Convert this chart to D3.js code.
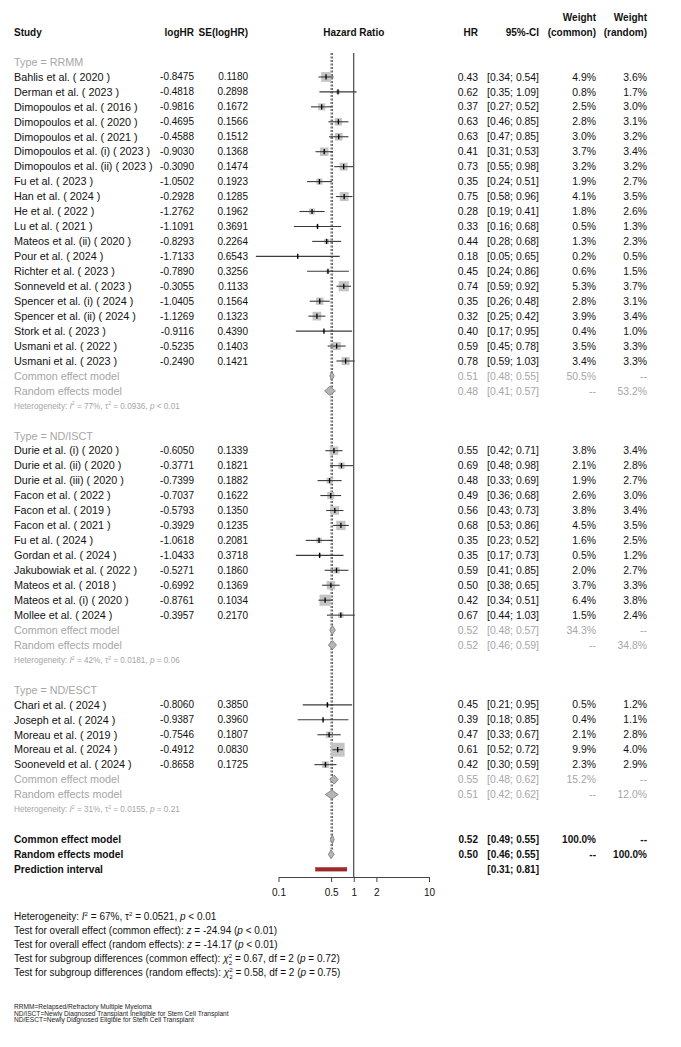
<!DOCTYPE html>
<html>
<head>
<meta charset="utf-8">
<script src="https://cdn.jsdelivr.net/npm/d3@7"></script>
<style>
  body { margin: 0; background: #fff; }
  svg { display: block; font-family: "Liberation Sans", Arial, sans-serif; }
</style>
</head>
<body>
<svg id="plot" width="681" height="1047"></svg>
<script>
// Study level data
const groupLabels = ["Type = RRMM", "Type = ND/ISCT", "Type = ND/ESCT"];

const studyNames = [
  "Bahlis et al. ( 2020 )", "Derman et al. ( 2023 )", "Dimopoulos et al. ( 2016 )",
  "Dimopoulos et al. ( 2020 )", "Dimopoulos et al. ( 2021 )", "Dimopoulos et al. (i) ( 2023 )",
  "Dimopoulos et al. (ii) ( 2023 )", "Fu et al. ( 2023 )", "Han et al. ( 2024 )",
  "He et al. ( 2022 )", "Lu et al. ( 2021 )", "Mateos et al. (ii) ( 2020 )",
  "Pour et al. ( 2024 )", "Richter et al. ( 2023 )", "Sonneveld et al. ( 2023 )",
  "Spencer et al. (i) ( 2024 )", "Spencer et al. (ii) ( 2024 )", "Stork et al. ( 2023 )",
  "Usmani et al. ( 2022 )", "Usmani et al. ( 2023 )",
  "Durie et al. (i) ( 2020 )", "Durie et al. (ii) ( 2020 )", "Durie et al. (iii) ( 2020 )",
  "Facon et al. ( 2022 )", "Facon et al. ( 2019 )", "Facon et al. ( 2021 )",
  "Fu et al. ( 2024 )", "Gordan et al. ( 2024 )", "Jakubowiak et al. ( 2022 )",
  "Mateos et al. ( 2018 )", "Mateos et al. (i) ( 2020 )", "Mollee et al. ( 2024 )",
  "Chari et al. ( 2024 )", "Joseph et al. ( 2024 )", "Moreau et al. ( 2019 )",
  "Moreau et al. ( 2024 )", "Sooneveld et al. ( 2024 )"
];
const studyGroup = [
  0,0,0,0,0,0,0,0,0,0,0,0,0,0,0,0,0,0,0,0,
  1,1,1,1,1,1,1,1,1,1,1,1,
  2,2,2,2,2
];
const logHR = [
  -0.8475, -0.4818, -0.9816, -0.4695, -0.4588, -0.9030, -0.3090, -1.0502, -0.2928, -1.2762,
  -1.1091, -0.8293, -1.7133, -0.7890, -0.3055, -1.0405, -1.1269, -0.9116, -0.5235, -0.2490,
  -0.6050, -0.3771, -0.7399, -0.7037, -0.5793, -0.3929, -1.0618, -1.0433, -0.5271, -0.6992,
  -0.8761, -0.3957,
  -0.8060, -0.9387, -0.7546, -0.4912, -0.8658
];
const seLogHR = [
  0.1180, 0.2898, 0.1672, 0.1566, 0.1512, 0.1368, 0.1474, 0.1923, 0.1285, 0.1962,
  0.3691, 0.2264, 0.6543, 0.3256, 0.1133, 0.1564, 0.1323, 0.4390, 0.1403, 0.1421,
  0.1339, 0.1821, 0.1882, 0.1622, 0.1350, 0.1235, 0.2081, 0.3718, 0.1860, 0.1369,
  0.1034, 0.2170,
  0.3850, 0.3960, 0.1807, 0.0830, 0.1725
];
const hr = [
  0.43, 0.62, 0.37, 0.63, 0.63, 0.41, 0.73, 0.35, 0.75, 0.28,
  0.33, 0.44, 0.18, 0.45, 0.74, 0.35, 0.32, 0.40, 0.59, 0.78,
  0.55, 0.69, 0.48, 0.49, 0.56, 0.68, 0.35, 0.35, 0.59, 0.50,
  0.42, 0.67,
  0.45, 0.39, 0.47, 0.61, 0.42
];
const ciLow = [
  0.34, 0.35, 0.27, 0.46, 0.47, 0.31, 0.55, 0.24, 0.58, 0.19,
  0.16, 0.28, 0.05, 0.24, 0.59, 0.26, 0.25, 0.17, 0.45, 0.59,
  0.42, 0.48, 0.33, 0.36, 0.43, 0.53, 0.23, 0.17, 0.41, 0.38,
  0.34, 0.44,
  0.21, 0.18, 0.33, 0.52, 0.30
];
const ciHigh = [
  0.54, 1.09, 0.52, 0.85, 0.85, 0.53, 0.98, 0.51, 0.96, 0.41,
  0.68, 0.68, 0.65, 0.86, 0.92, 0.48, 0.42, 0.95, 0.78, 1.03,
  0.71, 0.98, 0.69, 0.68, 0.73, 0.86, 0.52, 0.73, 0.85, 0.65,
  0.51, 1.03,
  0.95, 0.85, 0.67, 0.72, 0.59
];
const wCommon = [
  4.9, 0.8, 2.5, 2.8, 3.0, 3.7, 3.2, 1.9, 4.1, 1.8,
  0.5, 1.3, 0.2, 0.6, 5.3, 2.8, 3.9, 0.4, 3.5, 3.4,
  3.8, 2.1, 1.9, 2.6, 3.8, 4.5, 1.6, 0.5, 2.0, 3.7,
  6.4, 1.5,
  0.5, 0.4, 2.1, 9.9, 2.3
];
const wRandom = [
  3.6, 1.7, 3.0, 3.1, 3.2, 3.4, 3.2, 2.7, 3.5, 2.6,
  1.3, 2.3, 0.5, 1.5, 3.7, 3.1, 3.4, 1.0, 3.3, 3.3,
  3.4, 2.8, 2.7, 3.0, 3.4, 3.5, 2.5, 1.2, 2.7, 3.3,
  3.8, 2.4,
  1.2, 1.1, 2.8, 4.0, 2.9
];

// Subgroup pooled estimates
const subCommonHR = [0.51, 0.52, 0.55];
const subCommonLow = [0.48, 0.48, 0.48];
const subCommonHigh = [0.55, 0.57, 0.62];
const subCommonW = [50.5, 34.3, 15.2];
const subRandomHR = [0.48, 0.52, 0.51];
const subRandomLow = [0.41, 0.46, 0.42];
const subRandomHigh = [0.57, 0.59, 0.62];
const subRandomW = [53.2, 34.8, 12.0];
const subI2 = ["77%", "42%", "31%"];
const subTau2 = ["0.0936", "0.0181", "0.0155"];
const subP = ["< 0.01", "= 0.06", "= 0.21"];

// Overall estimates
const overallCommon = [0.52, 0.49, 0.55];
const overallRandom = [0.50, 0.46, 0.55];
const predInterval = [0.31, 0.81];

const axisTicks = [0.1, 0.5, 1, 2, 10];

const footNotes = [
  "RRMM=Relapsed/Refractory Multiple Myeloma",
  "ND/ISCT=Newly Diagnosed Transplant Ineligible for Stem Cell Transplant",
  "ND/ESCT=Newly Diagnosed Eligible for Stem Cell Transplant"
];

// ---- layout ----
const svg = d3.select("#plot");
const FS = 10;        // numbers, headers, footer
const FS_LAB = 10.8;  // study / model labels
const GREY = "#a6a6a6";
const rowY = r => 62 + r * 14.95;

const x = d3.scaleLog().domain([0.1, 10]).range([278.5, 429]);

const col = { study: 14, logHR: 194, se: 248, hr: 478, ci: 539, wc: 596, wr: 647 };

const f2 = d => d.toFixed(2);
const f4 = d => d.toFixed(4);
const fw = d => d.toFixed(1) + "%";
const ciStr = (lo, hi) => `[${f2(lo)}; ${f2(hi)}]`;

function txt(xp, y, s, opt = {}) {
  return svg.append("text")
    .attr("x", xp).attr("y", y).attr("dy", "0.35em")
    .attr("font-size", opt.size || FS)
    .attr("font-weight", opt.bold ? "bold" : null)
    .attr("text-anchor", opt.anchor || "start")
    .attr("fill", opt.color || "#111")
    .text(s);
}

// text with italics / super- / subscripts
function rich(xp, y, parts, fs, color) {
  const t = svg.append("text").attr("x", xp).attr("y", y).attr("dy", "0.35em")
    .attr("font-size", fs).attr("fill", color);
  let shift = 0;
  parts.forEach(p => {
    const sp = t.append("tspan").text(p.t);
    let target = 0;
    if (p.s === "sup") target = -fs * 0.4;
    if (p.s === "sub") target = fs * 0.3;
    if (target - shift !== 0) sp.attr("dy", target - shift);
    shift = target;
    if (p.s) sp.attr("font-size", fs * 0.62);
    if (p.i) sp.attr("font-style", "italic");
    if (p.dx) sp.attr("dx", p.dx);
  });
  return t;
}

function hetParts(i2, tau2, p) {
  return [
    { t: "Heterogeneity: " }, { t: "I", i: true }, { t: "2", s: "sup" },
    { t: " = " + i2 + ", τ" }, { t: "2", s: "sup" },
    { t: " = " + tau2 + ", " }, { t: "p", i: true }, { t: " " + p }
  ];
}

function diamond(y, est, lo, hi, h) {
  svg.append("path")
    .attr("d", `M${x(lo)},${y}L${x(est)},${y - h}L${x(hi)},${y}L${x(est)},${y + h}Z`)
    .attr("fill", "#b5b5b5").attr("stroke", "#777").attr("stroke-width", 0.8);
}

// headers
txt(col.wc, 17, "Weight", { bold: true, anchor: "end" });
txt(col.wr, 17, "Weight", { bold: true, anchor: "end" });
txt(col.study, 32, "Study", { bold: true });
txt(col.logHR, 32, "logHR", { bold: true, anchor: "end" });
txt(col.se, 32, "SE(logHR)", { bold: true, anchor: "end" });
txt(x(1), 32, "Hazard Ratio", { bold: true, anchor: "middle" });
txt(col.hr, 32, "HR", { bold: true, anchor: "end" });
txt(col.ci, 32, "95%-CI", { bold: true, anchor: "end" });
txt(col.wc, 32, "(common)", { bold: true, anchor: "end" });
txt(col.wr, 32, "(random)", { bold: true, anchor: "end" });

// reference lines
const lineTop = 53;
svg.append("line").attr("x1", x(1)).attr("x2", x(1)).attr("y1", lineTop).attr("y2", 877)
  .attr("stroke", "#222").attr("stroke-width", 1);
[overallCommon[0], overallRandom[0]].forEach(v => {
  svg.append("line").attr("x1", x(v)).attr("x2", x(v)).attr("y1", lineTop).attr("y2", 850)
    .attr("stroke", "#222").attr("stroke-width", 0.8).attr("stroke-dasharray", "2,1.5");
});

// rows
let r = 0;
groupLabels.forEach((g, gi) => {
  txt(col.study, rowY(r), g, { color: GREY, size: FS_LAB });
  r++;
  studyNames.forEach((name, i) => {
    if (studyGroup[i] !== gi) return;
    const y = rowY(r);
    txt(col.study, y, name, { size: FS_LAB });
    txt(col.logHR, y, f4(logHR[i]), { anchor: "end" });
    txt(col.se, y, f4(seLogHR[i]), { anchor: "end" });
    txt(col.hr, y, f2(hr[i]), { anchor: "end", size: 10.4 });
    txt(col.ci, y, ciStr(ciLow[i], ciHigh[i]), { anchor: "end", size: 10.4 });
    txt(col.wc, y, fw(wCommon[i]), { anchor: "end", size: 10.4 });
    txt(col.wr, y, fw(wRandom[i]), { anchor: "end", size: 10.4 });

    const est = Math.exp(logHR[i]);
    const lo = Math.exp(logHR[i] - 1.96 * seLogHR[i]);
    const hi = Math.exp(logHR[i] + 1.96 * seLogHR[i]);
    const s = 4.4 * Math.sqrt(wCommon[i]);
    svg.append("rect").attr("x", x(est) - s / 2).attr("y", y - s / 2)
      .attr("width", s).attr("height", s).attr("fill", "#c4c4c4");
    svg.append("line").attr("x1", x(lo)).attr("x2", x(hi)).attr("y1", y).attr("y2", y)
      .attr("stroke", "#3a3a3a").attr("stroke-width", 1.1);
    svg.append("line").attr("x1", x(est)).attr("x2", x(est)).attr("y1", y - 2.6).attr("y2", y + 2.6)
      .attr("stroke", "#000").attr("stroke-width", 1.3);
    r++;
  });
  // subgroup common
  let y = rowY(r);
  txt(col.study, y, "Common effect model", { color: GREY, size: FS_LAB });
  txt(col.hr, y, f2(subCommonHR[gi]), { anchor: "end", color: GREY, size: 10.4 });
  txt(col.ci, y, ciStr(subCommonLow[gi], subCommonHigh[gi]), { anchor: "end", color: GREY, size: 10.4 });
  txt(col.wc, y, fw(subCommonW[gi]), { anchor: "end", color: GREY, size: 10.4 });
  txt(col.wr, y, "--", { anchor: "end", color: GREY, size: 10.4 });
  diamond(y, subCommonHR[gi], subCommonLow[gi], subCommonHigh[gi], 4.5);
  r++;
  y = rowY(r);
  txt(col.study, y, "Random effects model", { color: GREY, size: FS_LAB });
  txt(col.hr, y, f2(subRandomHR[gi]), { anchor: "end", color: GREY, size: 10.4 });
  txt(col.ci, y, ciStr(subRandomLow[gi], subRandomHigh[gi]), { anchor: "end", color: GREY, size: 10.4 });
  txt(col.wc, y, "--", { anchor: "end", color: GREY, size: 10.4 });
  txt(col.wr, y, fw(subRandomW[gi]), { anchor: "end", color: GREY, size: 10.4 });
  diamond(y, subRandomHR[gi], subRandomLow[gi], subRandomHigh[gi], 4.5);
  r++;
  rich(col.study, rowY(r), hetParts(subI2[gi], subTau2[gi], subP[gi]), 8.2, GREY);
  r += 2;
});

// overall
let y = rowY(r);
txt(col.study, y, "Common effect model", { bold: true, size: 10.2 });
txt(col.hr, y, f2(overallCommon[0]), { bold: true, anchor: "end" });
txt(col.ci, y, ciStr(overallCommon[1], overallCommon[2]), { bold: true, anchor: "end" });
txt(col.wc, y, "100.0%", { bold: true, anchor: "end" });
txt(col.wr, y, "--", { bold: true, anchor: "end" });
diamond(y, overallCommon[0], overallCommon[1], overallCommon[2], 4.5);
r++;
y = rowY(r);
txt(col.study, y, "Random effects model", { bold: true, size: 10.2 });
txt(col.hr, y, f2(overallRandom[0]), { bold: true, anchor: "end" });
txt(col.ci, y, ciStr(overallRandom[1], overallRandom[2]), { bold: true, anchor: "end" });
txt(col.wc, y, "--", { bold: true, anchor: "end" });
txt(col.wr, y, "100.0%", { bold: true, anchor: "end" });
diamond(y, overallRandom[0], overallRandom[1], overallRandom[2], 4.5);
r++;
y = rowY(r);
txt(col.study, y, "Prediction interval", { bold: true, size: 10.2 });
txt(col.ci, y, ciStr(predInterval[0], predInterval[1]), { bold: true, anchor: "end" });
svg.append("rect").attr("x", x(predInterval[0])).attr("y", y - 1.8)
  .attr("width", x(predInterval[1]) - x(predInterval[0])).attr("height", 3.6)
  .attr("fill", "#a3282a").attr("stroke", "#7a1a1a").attr("stroke-width", 0.4);

// axis
const axisG = svg.append("g").attr("transform", "translate(0,877)")
  .call(d3.axisBottom(x).tickValues(axisTicks).tickFormat(d => String(d))
    .tickSize(5).tickSizeOuter(0).tickPadding(7));
axisG.select(".domain").attr("stroke", "#444");
axisG.selectAll(".tick line").attr("stroke", "#444");
axisG.selectAll(".tick text").attr("font-size", FS).attr("fill", "#111")
  .attr("font-family", "Liberation Sans, Arial, sans-serif");

// footer tests
const footY = [916, 930, 944, 958, 972];
rich(col.study, footY[0], hetParts("67%", "0.0521", "< 0.01"), FS, "#111");
rich(col.study, footY[1], [
  { t: "Test for overall effect (common effect): " }, { t: "z", i: true },
  { t: " = -24.94 (" }, { t: "p", i: true }, { t: " < 0.01)" }
], FS, "#111");
rich(col.study, footY[2], [
  { t: "Test for overall effect (random effects): " }, { t: "z", i: true },
  { t: " = -14.17 (" }, { t: "p", i: true }, { t: " < 0.01)" }
], FS, "#111");
rich(col.study, footY[3], [
  { t: "Test for subgroup differences (common effect): " }, { t: "χ", i: true },
  { t: "2", s: "sup" }, { t: "2", s: "sub", dx: -3.4 },
  { t: " = 0.67, df = 2 (" }, { t: "p", i: true }, { t: " = 0.72)" }
], FS, "#111");
rich(col.study, footY[4], [
  { t: "Test for subgroup differences (random effects): " }, { t: "χ", i: true },
  { t: "2", s: "sup" }, { t: "2", s: "sub", dx: -3.4 },
  { t: " = 0.58, df = 2 (" }, { t: "p", i: true }, { t: " = 0.75)" }
], FS, "#111");

// footnotes
footNotes.forEach((s, i) => txt(col.study, 1007 + i * 6.5, s, { size: 6.6, color: "#222" }));
</script>
</body>
</html>
